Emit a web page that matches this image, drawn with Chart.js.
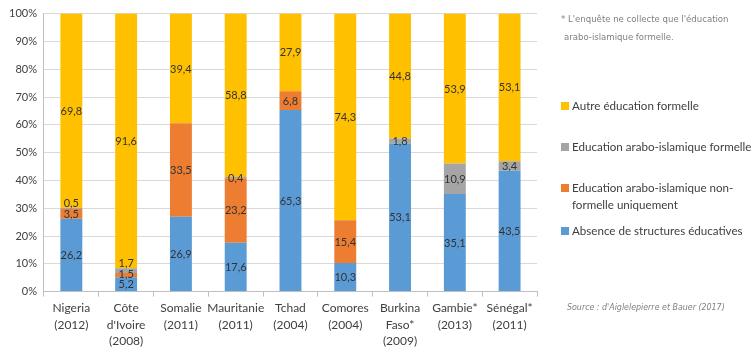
<!DOCTYPE html>
<html><head><meta charset="utf-8">
<script src="https://cdn.jsdelivr.net/npm/chart.js@4.4.0/dist/chart.umd.min.js"></script>
<style>
html,body{margin:0;padding:0;background:#fff;}
#wrap{position:relative;width:754px;height:355px;}
</style></head>
<body><div id="wrap"><canvas id="c" width="754" height="355"></canvas></div>
<script>
const categories = [["Nigeria","(2012)"],["Côte","d'Ivoire","(2008)"],["Somalie","(2011)"],["Mauritanie","(2011)"],["Tchad","(2004)"],["Comores","(2004)"],["Burkina","Faso*","(2009)"],["Gambie*","(2013)"],["Sénégal*","(2011)"]];
const absence   = [26.2, 5.2, 26.9, 17.6, 65.3, 10.3, 53.1, 35.1, 43.5];
const nonFormel = [3.5, 1.5, 33.5, 23.2, 6.8, 15.4, 0, 0, 0];
const araboForm = [0.5, 1.7, 0, 0.4, 0, 0, 1.8, 10.9, 3.4];
const autre     = [69.8, 91.6, 39.4, 58.8, 27.9, 74.3, 44.8, 53.9, 53.1];
const yTicks = [0,10,20,30,40,50,60,70,80,90,100];
const seriesNames = ["Absence de structures éducatives","Education arabo-islamique non-formelle uniquement","Education arabo-islamique formelle","Autre éducation formelle"];
const legendLines = [["Absence de structures éducatives"],["Education arabo-islamique non-","formelle uniquement"],["Education arabo-islamique formelle"],["Autre éducation formelle"]];
const colors = ["#5B9BD5","#ED7D31","#A5A5A5","#FFC000"];
const noteLines = ["* L'enquête ne collecte que l'éducation","arabo-islamique formelle."];
const sourceText = "Source : d'Aiglelepierre et Bauer (2017)";

const FONT = "Lato, 'Open Sans', sans-serif";
const NARROW = "'Liberation Sans Narrow', 'DejaVu Sans Condensed', sans-serif";

// 100% stacked: share of each category total
const raw = [absence, nonFormel, araboForm, autre];
const totals = categories.map((_,i)=>raw.reduce((s,a)=>s+a[i],0));
const shares = raw.map(a=>a.map((v,i)=>v/totals[i]*100));

const valuesPlugin = {
  id:'vals',
  afterDatasetsDraw(chart){
    const ctx = chart.ctx;
    ctx.save();
    ctx.font = "11px " + FONT;
    ctx.fillStyle = "#333333";
    ctx.textAlign = "center";
    ctx.textBaseline = "middle";
    const n = chart.data.labels.length;
    for(let i=0;i<n;i++){
      let prevY = null;
      chart.data.datasets.forEach((ds,di)=>{
        const v = ds.rawValues[i];
        if(!v) return;
        const el = chart.getDatasetMeta(di).data[i];
        let y = (el.y + el.base)/2;
        if(prevY !== null && y > prevY - 10.5) y = prevY - 10.5;
        ctx.fillText(String(v).replace('.',','), el.x, y+0.5);
        prevY = y;
      });
    }
    ctx.restore();
  }
};

const sidePlugin = {
  id:'side',
  afterDraw(chart){
    const ctx = chart.ctx;
    ctx.save();
    const lx = 561, ys = [231,188,147,106];
    ctx.textBaseline = "middle";
    ctx.textAlign = "left";
    ctx.font = "11.6px " + FONT;
    legendLines.forEach((lines,k)=>{
      ctx.fillStyle = colors[k];
      ctx.fillRect(lx, ys[k]-4, 8, 8);
      ctx.fillStyle = "#404040";
      lines.forEach((t,j)=>ctx.fillText(t, lx+11, ys[k] + j*17));
    });
    ctx.fillStyle = "#7f7f7f";
    ctx.font = "9.5px " + NARROW;
    ctx.fillText(noteLines[0], 561, 20);
    ctx.fillText(noteLines[1], 564, 38);
    ctx.font = "italic 8.8px " + NARROW;
    ctx.fillText(sourceText, 567, 308);
    ctx.restore();
  }
};

new Chart(document.getElementById('c'), {
  type:'bar',
  data:{
    labels: categories,
    datasets: shares.map((d,i)=>({
      label: seriesNames[i], data: d, rawValues: raw[i], backgroundColor: colors[i],
      barPercentage: 0.4, categoryPercentage: 1.0, borderWidth: 0
    }))
  },
  options:{
    responsive:false, animation:false,
    layout:{padding:{left:2, right:217, top:7, bottom:2}},
    plugins:{legend:{display:false}, tooltip:{enabled:false}},
    scales:{
      x:{
        stacked:true,
        grid:{offset:true, drawOnChartArea:false, drawTicks:true, tickLength:5, color:"#bfbfbf"},
        border:{color:"#bfbfbf"},
        ticks:{color:"#404040", font:{family:FONT, size:12, lineHeight:1.4}, maxRotation:0, autoSkip:false, padding:3}
      },
      y:{
        stacked:true, min:0, max:100,
        afterBuildTicks(s){ s.ticks = yTicks.map(v=>({value:v})); },
        grid:{color:"#d9d9d9", drawTicks:false},
        border:{color:"#bfbfbf"},
        ticks:{color:"#404040", font:{family:FONT, size:11}, padding:7, callback:v=>v+"%"}
      }
    }
  },
  plugins:[valuesPlugin, sidePlugin]
});
</script></body></html>
